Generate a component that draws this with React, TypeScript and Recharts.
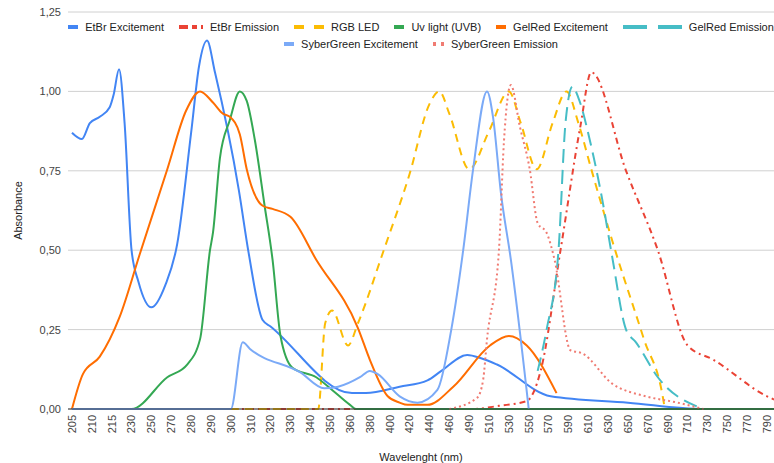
import { LineChart, Line, XAxis, YAxis, CartesianGrid } from "recharts";

// x positions are category indexes (0 = 205 nm ... 35 = 790 nm), half steps allowed
const categories = [
  "205", "210", "215", "230", "250", "270", "280", "290", "300", "310", "320", "330",
  "340", "350", "360", "380", "400", "420", "440", "460", "490", "510", "530", "550",
  "570", "590", "610", "630", "650", "670", "690", "710", "730", "750", "770", "790",
];

const yTicks = [0, 0.25, 0.5, 0.75, 1, 1.25];

const etbrExcitement: [number, number][] = [
  [0, 0.87], [0.5, 0.85], [0.9, 0.9], [1.4, 0.92], [1.9, 0.95], [2.1, 0.99], [2.37, 1.07],
  [2.65, 0.9], [3.0, 0.5], [3.35, 0.4], [4.0, 0.32], [4.7, 0.39], [5.3, 0.52], [6.0, 0.87],
  [6.4, 1.08], [6.8, 1.16], [7.2, 1.06], [8.4, 0.69], [8.9, 0.49], [9.6, 0.28], [10.0, 0.26],
  [14.1, 0.05], [14.8, 0.05], [16.5, 0.07], [17.9, 0.09], [18.6, 0.12], [19.9, 0.17],
  [20.6, 0.16], [21.4, 0.14], [24.1, 0.04], [28, 0.02], [31.8, 0], [35, 0],
];

const etbrEmission: [number, number][] = [
  [0, 0], [20.2, 0], [21.5, 0.01], [22.9, 0.025], [23.6, 0.12], [24.6, 0.5], [25.6, 0.89],
  [26.15, 1.06], [27.9, 0.75], [29.5, 0.5], [31.0, 0.2], [32.3, 0.155], [35, 0.04], [35.35, 0.03],
];

const rgbLed: [number, number][] = [
  [8, 0], [12.4, 0], [12.75, 0.27], [13.1, 0.31], [13.9, 0.2], [14.4, 0.27], [15.7, 0.5],
  [17.0, 0.74], [18.0, 0.96], [18.5, 1.0], [19.0, 0.93], [20.0, 0.755], [21.0, 0.875],
  [22.0, 1.0], [22.6, 0.9], [23.4, 0.755], [24.2, 0.9], [24.9, 1.0], [25.5, 0.9],
  [26.15, 0.755], [27.4, 0.49], [28.8, 0.22], [29.8, 0.02], [29.85, 0],
];

const uvLight: [number, number][] = [
  [0, 0], [3, 0], [4.8, 0.1], [5.8, 0.14], [6.45, 0.22], [6.95, 0.5], [7.1, 0.555],
  [7.45, 0.79], [7.95, 0.91], [8.45, 1.0], [8.8, 0.97], [9.2, 0.85], [9.7, 0.64], [10.1, 0.47],
  [10.5, 0.23], [11.1, 0.13], [12.3, 0.1], [13.1, 0.06], [14.0, 0.013], [14.3, 0], [35, 0],
  [35.35, 0],
];

const gelredExcitement: [number, number][] = [
  [0, 0], [0.55, 0.11], [1.4, 0.165], [2.4, 0.29], [3.4, 0.485], [4.8, 0.755], [5.75, 0.94],
  [6.45, 1.0], [7.1, 0.965], [7.6, 0.93], [7.95, 0.92], [8.45, 0.865], [8.8, 0.755],
  [9.6, 0.64], [10.1, 0.63], [11.0, 0.605], [12.3, 0.47], [14.4, 0.255], [15.0, 0.155],
  [15.9, 0.04], [16.5, 0.02], [16.9, 0.013], [17.9, 0.013], [19.2, 0.07], [21.05, 0.2],
  [22.0, 0.23], [22.9, 0.2], [24.4, 0.05],
];

const gelredEmission: [number, number][] = [
  [23.45, 0.12], [23.9, 0.25], [24.5, 0.5], [24.85, 0.9], [25.2, 1.015], [25.5, 0.98],
  [26.1, 0.84], [26.7, 0.66], [27.2, 0.48], [27.9, 0.25], [28.4, 0.21], [29.5, 0.1], [31.8, 0],
];

const syberExcitement: [number, number][] = [
  [0, 0], [8, 0], [8.6, 0.21], [8.95, 0.19], [11.5, 0.115], [12.7, 0.065], [13.4, 0.07],
  [14.5, 0.1], [15.0, 0.12], [15.4, 0.11], [16.5, 0.04], [17.4, 0.02], [18.4, 0.06],
  [19.1, 0.25], [19.7, 0.5], [20.2, 0.755], [20.9, 1.0], [21.2, 0.92], [21.6, 0.68],
  [22.1, 0.47], [23.0, 0],
];

const syberEmission: [number, number][] = [
  [19, 0], [20.4, 0.035], [20.7, 0.09], [20.9, 0.22], [21.5, 0.5], [21.75, 0.84], [22.1, 1.02],
  [22.55, 0.89], [23.05, 0.755], [23.45, 0.585], [23.9, 0.555], [24.3, 0.47], [25.1, 0.185],
  [25.7, 0.175], [27.2, 0.08], [28.9, 0.04], [30.5, 0.02], [31.8, 0],
];

const series = [
  { name: "EtBr Excitement", data: etbrExcitement, color: "#4285f4" },
  { name: "EtBr Emission", data: etbrEmission, color: "#ea4335", dash: "6 4 2 4", iconW: 24, iconDash: "9 4 5 4 2 0" },
  { name: "RGB LED", data: rgbLed, color: "#fbbc04", dash: "8 6", iconW: 30, iconDash: "10 10" },
  { name: "Uv light (UVB)", data: uvLight, color: "#34a853" },
  { name: "GelRed Excitement", data: gelredExcitement, color: "#ff6d01" },
  { name: "GelRed Emission", data: gelredEmission, color: "#46bdc6", dash: "14 7", iconW: 59, iconDash: "24 11" },
  { name: "SyberGreen Excitement", data: syberExcitement, color: "#7baaf7" },
  { name: "SyberGreen Emission", data: syberEmission, color: "#f07b72", dash: "2 3", iconW: 11, iconDash: "3 5" },
];

const FONT = '"Liberation Sans", Arial, sans-serif';

const toPoints = (arr: [number, number][]) => arr.map(([x, y]) => ({ x, y }));

function XTick({ x, y, payload }: any) {
  return (
    <text
      transform={`translate(${x},${y}) rotate(-90)`}
      textAnchor="end"
      dy="0.35em"
      fontSize={11}
      fill="#444"
      fontFamily={FONT}
    >
      {categories[payload.value]}
    </text>
  );
}

function LegendItem({ s }: { s: (typeof series)[number] }) {
  const w = s.iconW ?? 10;
  return (
    <div style={{ display: "flex", alignItems: "center", gap: 7 }}>
      <svg width={w} height={4}>
        <line x1={0} y1={2} x2={w} y2={2} stroke={s.color} strokeWidth={4} strokeDasharray={s.iconDash} />
      </svg>
      <span>{s.name}</span>
    </div>
  );
}

export default function App() {
  const rowStyle = {
    position: "absolute" as const,
    left: 68,
    width: 706,
    display: "flex",
    justifyContent: "center",
    gap: 15,
    whiteSpace: "nowrap" as const,
    lineHeight: "16px",
  };
  return (
    <div
      style={{
        position: "absolute",
        left: 0,
        top: 0,
        width: 774,
        height: 463,
        overflow: "hidden",
        background: "#fff",
        fontFamily: FONT,
        fontSize: 11,
        color: "#222",
      }}
    >
      <LineChart width={774} height={463} margin={{ top: 12, right: 0, left: 0, bottom: 0 }}>
        <CartesianGrid vertical={false} stroke="#d0d0d0" />
        <XAxis
          type="number"
          dataKey="x"
          domain={[-0.2, 35.35]}
          ticks={categories.map((_, i) => i)}
          interval={0}
          height={54}
          tick={<XTick />}
          tickLine={false}
          tickSize={0}
          tickMargin={6}
          axisLine={{ stroke: "#333" }}
          label={{ value: "Wavelenght (nm)", position: "insideBottom", offset: 2, fontSize: 11, fill: "#222", fontFamily: FONT }}
        />
        <YAxis
          type="number"
          domain={[0, 1.25]}
          ticks={yTicks}
          width={68}
          axisLine={false}
          tickLine={false}
          tickSize={0}
          tickMargin={7}
          tickFormatter={(v: number) => v.toFixed(2).replace(".", ",")}
          tick={{ fontSize: 11, fill: "#444", fontFamily: FONT }}
          label={{
            content: ({ viewBox }: any) => {
              const cx = viewBox.x + 18;
              const cy = viewBox.y + viewBox.height / 2;
              return (
                <text
                  x={cx}
                  y={cy}
                  transform={`rotate(-90 ${cx} ${cy})`}
                  textAnchor="middle"
                  dominantBaseline="central"
                  fontSize={11}
                  fill="#222"
                  fontFamily={FONT}
                >
                  Absorbance
                </text>
              );
            },
          }}
        />
        {series.map((s) => (
          <Line
            key={s.name}
            name={s.name}
            data={toPoints(s.data)}
            dataKey="y"
            type="monotone"
            stroke={s.color}
            strokeWidth={2}
            strokeDasharray={s.dash}
            dot={false}
            activeDot={false}
            isAnimationActive={false}
          />
        ))}
      </LineChart>
      <div style={{ ...rowStyle, top: 19 }}>
        {series.slice(0, 6).map((s) => (
          <LegendItem key={s.name} s={s} />
        ))}
      </div>
      <div style={{ ...rowStyle, top: 36 }}>
        {series.slice(6).map((s) => (
          <LegendItem key={s.name} s={s} />
        ))}
      </div>
    </div>
  );
}
